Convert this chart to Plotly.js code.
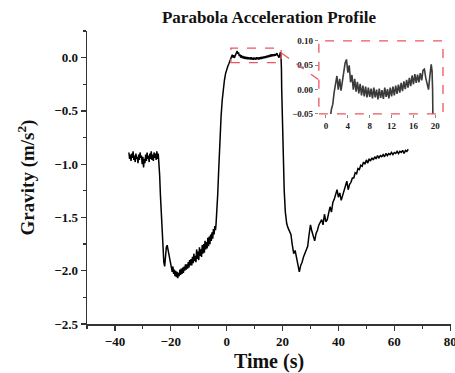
<!DOCTYPE html>
<html>
<head>
<meta charset="utf-8">
<script src="https://cdn.plot.ly/plotly-3.0.1.min.js"></script>
<style>html,body{margin:0;padding:0;background:#fff;}#chart{width:455px;height:373px;}</style>
</head>
<body>
<div id="chart"></div>
<script>
const time = [
  -35,-34.75,-34.5,-34.25,-34,-33.75,-33.5,-33.25,-33,-32.75,-32.5,-32.25,-32,-31.75,-31.5,-31.25,-31,-30.75,-30.5,-30.25,
  -30,-29.75,-29.5,-29.25,-29,-28.75,-28.5,-28.25,-28,-27.75,-27.5,-27.25,-27,-26.75,-26.5,-26.25,-26,-25.75,-25.5,-25.25,
  -25,-24.75,-24.5,
  -24.2,-24,-23.7,-23.4,-23.1,-22.8,-22.5,-22.2,-21.9,-21.6,-21.3,-21,-20.7,-20.4,-20.1,-19.8,
  -19.5,-19.25,-19,-18.75,-18.5,-18.25,-18,-17.75,-17.5,-17.25,-17,-16.75,-16.5,-16.25,-16,-15.75,-15.5,-15.25,-15,-14.75,
  -14.5,-14.25,-14,-13.75,-13.5,-13.25,-13,-12.75,-12.5,-12.25,-12,-11.75,-11.5,-11.25,-11,-10.75,-10.5,-10.25,-10,-9.75,
  -9.5,-9.25,-9,-8.75,-8.5,-8.25,-8,-7.75,-7.5,-7.25,-7,-6.75,-6.5,-6.25,-6,-5.75,-5.5,-5.25,-5,-4.75,-4.5,-4.25,-4,-3.8,
  -3.5,-3.2,-2.9,-2.6,-2.3,-2.0,-1.6,-1.2,-0.8,-0.4,0,0.4,
  0.75,1.0,1.25,1.5,1.75,2.0,2.25,2.5,2.75,3.0,3.25,3.5,3.75,4.0,4.25,4.5,4.75,5.0,5.25,5.5,5.75,6.0,6.25,6.5,6.75,
  7.0,7.25,7.5,7.75,8.0,8.25,8.5,8.75,9.0,9.25,9.5,9.75,10.0,10.25,10.5,10.75,11.0,11.25,11.5,11.75,12.0,12.25,12.5,12.75,
  13.0,13.25,13.5,13.75,14.0,14.25,14.5,14.75,15.0,15.25,15.5,15.75,16.0,16.25,16.5,16.75,17.0,17.25,17.5,17.75,18.0,
  18.25,18.5,18.75,19.0,19.25,19.4,19.5,
  19.6,19.7,19.9,20.2,20.6,21.0,21.5,22.0,22.5,23.0,23.5,24.0,24.5,25.0,25.5,26.0,26.5,27.0,27.5,28.0,28.5,29.0,29.5,
  30.0,30.5,31.0,31.5,32.0,32.5,33.0,33.5,34.0,34.5,35.0,35.5,36.0,36.5,37.0,37.5,38.0,38.5,39.0,39.5,40.0,40.5,41.0,
  41.5,42.0,42.5,43.0,43.5,44.0,44.5,45.0,45.5,46.0,46.5,47.0,47.5,48.0,48.5,49.0,49.5,50.0,50.5,51.0,51.5,52.0,52.5,
  53.0,53.5,54.0,54.5,55.0,55.5,56.0,56.5,57.0,57.5,58.0,58.5,59.0,59.5,60.0,60.5,61.0,61.5,62.0,62.5,63.0,63.5,64.0,64.5,65.0
];
const gravity = [
  -0.89,-0.95,-0.91,-0.97,-0.90,-0.94,-0.88,-0.96,-0.92,-0.98,-0.90,-0.95,-0.93,-0.99,-0.91,-0.96,-0.89,-0.94,-0.92,-1.00,
  -0.93,-1.03,-0.95,-0.99,-0.91,-0.97,-0.89,-0.95,-0.92,-0.98,-0.90,-0.95,-0.88,-0.96,-0.91,-0.97,-0.89,-0.94,-0.90,-0.96,
  -0.88,-0.95,-0.90,
  -0.98,-1.10,-1.30,-1.50,-1.65,-1.78,-1.92,-1.96,-1.86,-1.78,-1.76,-1.80,-1.85,-1.89,-1.93,-1.96,
  -2.01,-1.96,-2.03,-1.99,-2.05,-2.00,-2.06,-2.01,-2.07,-2.02,-2.05,-1.99,-2.04,-1.98,-2.03,-1.97,-2.02,-1.96,-2.00,-1.94,
  -1.99,-1.94,-1.98,-1.92,-1.97,-1.90,-1.95,-1.89,-1.95,-1.87,-1.93,-1.84,-1.91,-1.86,-1.92,-1.80,-1.89,-1.82,-1.90,-1.78,
  -1.86,-1.80,-1.87,-1.76,-1.84,-1.75,-1.83,-1.72,-1.80,-1.73,-1.79,-1.69,-1.77,-1.68,-1.75,-1.66,-1.72,-1.64,-1.70,-1.61,-1.66,-1.58,-1.62,-1.56,
  -1.45,-1.28,-1.08,-0.88,-0.70,-0.55,-0.40,-0.29,-0.21,-0.15,-0.10,-0.08,
  -0.06,-0.04,-0.03,-0.005,0.015,0.028,0.0,0.022,-0.002,0.02,0.03,0.055,0.062,0.035,0.05,0.015,0.03,0.0,0.022,-0.004,0.016,-0.008,0.012,-0.012,0.008,
  -0.014,0.006,-0.016,0.004,-0.015,0.002,-0.018,0.004,-0.016,0.0,-0.02,0.002,-0.017,-0.001,-0.019,0.004,-0.015,0.001,-0.018,0.004,-0.014,0.006,-0.012,0.008,
  -0.009,0.01,-0.006,0.014,-0.003,0.017,0.001,0.02,0.004,0.024,0.007,0.029,0.011,0.032,0.014,0.031,0.015,0.034,0.019,0.04,0.042,
  0.024,0.008,0.0,0.028,0.052,0.038,0.0,
  -0.10,-0.30,-0.60,-0.95,-1.25,-1.45,-1.56,-1.60,-1.63,-1.66,-1.76,-1.84,-1.81,-1.88,-1.95,-2.01,-1.95,-1.92,-1.87,-1.84,-1.80,-1.77,-1.66,
  -1.57,-1.63,-1.68,-1.72,-1.65,-1.62,-1.57,-1.54,-1.52,-1.57,-1.47,-1.54,-1.52,-1.46,-1.40,-1.45,-1.36,-1.33,-1.28,-1.24,-1.31,-1.27,-1.34,
  -1.29,-1.24,-1.19,-1.16,-1.24,-1.19,-1.17,-1.13,-1.13,-1.08,-1.09,-1.04,-1.05,-1.01,-1.02,-0.98,-1.00,-0.96,-0.99,-0.95,-0.97,-0.94,-0.96,
  -0.93,-0.95,-0.92,-0.94,-0.92,-0.93,-0.91,-0.93,-0.90,-0.92,-0.90,-0.91,-0.89,-0.91,-0.89,-0.90,-0.88,-0.90,-0.88,-0.89,-0.87,-0.90,-0.87,-0.88,-0.86
];
const xTicks = [-40, -20, 0, 20, 40, 60, 80];
const yTicks = [-2.5, -2.0, -1.5, -1.0, -0.5, 0.0];
const insetXTicks = [0, 4, 8, 12, 16, 20];
const insetYTicks = [-0.05, 0.00, 0.05, 0.10];
const zoomBox = {t0: 1.5, t1: 19.5, g0: -0.047, g1: 0.09};

const serif = 'Liberation Serif';
const axisColor = '#333';
const red = '#e8585f';

const traces = [
  {x: time, y: gravity, type: 'scatter', mode: 'lines', xaxis: 'x', yaxis: 'y',
   line: {color: '#000', width: 1.5}, hoverinfo: 'skip', showlegend: false},
  {x: time, y: gravity, type: 'scatter', mode: 'lines', xaxis: 'x2', yaxis: 'y2',
   line: {color: '#3a3a3a', width: 1.6}, hoverinfo: 'skip', showlegend: false}
];

const tickFont = {family: serif, size: 13, color: '#111', weight: 'bold'};
const insetFont = {family: serif, size: 9, color: '#222', weight: 'bold'};

const layout = {
  width: 455, height: 373,
  margin: {l: 87, r: 4, t: 31, b: 49},
  paper_bgcolor: '#fff', plot_bgcolor: '#fff',
  showlegend: false,
  title: {text: 'Parabola Acceleration Profile', x: 0.5, xref: 'paper', xanchor: 'center',
          y: 0.955, yref: 'container', yanchor: 'middle',
          font: {family: serif, size: 17, color: '#111', weight: 'bold'}},
  xaxis: {domain: [0, 1], range: [-50, 80.3], tickvals: xTicks, ticks: 'outside', ticklen: 5, tickwidth: 1.2,
          tickcolor: axisColor, showline: true, linecolor: axisColor, linewidth: 1.5, showgrid: false, zeroline: false,
          ticklabeloverflow: 'allow',
          minor: {dtick: 10, tick0: 0, ticks: 'outside', ticklen: 3, tickcolor: axisColor, showgrid: false},
          tickfont: tickFont,
          title: {text: 'Time (s)', standoff: 7, font: {family: serif, size: 20, color: '#111', weight: 'bold'}}},
  yaxis: {domain: [0, 1], range: [-2.5, 0.25], tickvals: yTicks, tickformat: '.1f', ticks: 'outside', ticklen: 5, tickwidth: 1.2,
          tickcolor: axisColor, showline: true, linecolor: axisColor, linewidth: 1.5, showgrid: false, zeroline: false,
          minor: {dtick: 0.25, tick0: 0, ticks: 'outside', ticklen: 3, tickcolor: axisColor, showgrid: false},
          tickfont: tickFont,
          title: {text: 'Gravity (m/s<sup>2</sup>)', standoff: 14, font: {family: serif, size: 19, color: '#111', weight: 'bold'}}},
  xaxis2: {domain: [0.637, 0.978], anchor: 'y2', range: [-1.3, 21.4], tickvals: insetXTicks, ticks: 'outside', ticklen: 3,
           tickcolor: '#888', showline: false, showgrid: false, zeroline: false, tickfont: insetFont},
  yaxis2: {domain: [0.717, 0.966], anchor: 'x2', range: [-0.05, 0.10], tickvals: insetYTicks, tickformat: '.2f',
           ticks: 'outside', ticklen: 3, tickcolor: '#888', showline: false, showgrid: false, zeroline: false, tickfont: insetFont},
  shapes: [
    {type: 'rect', xref: 'paper', yref: 'paper', x0: 0.637, x1: 0.978, y0: 0.717, y1: 0.966,
     line: {color: red, width: 1.3, dash: 'dash'}},
    {type: 'rect', xref: 'x', yref: 'y', x0: zoomBox.t0, x1: zoomBox.t1, y0: zoomBox.g0, y1: zoomBox.g1,
     line: {color: red, width: 1.3, dash: 'dash'}},
    {type: 'line', xref: 'paper', yref: 'paper', x0: 0.535, y0: 0.924, x1: 0.637, y1: 0.833,
     line: {color: red, width: 1.3, dash: 'dash'}}
  ]
};

Plotly.newPlot('chart', traces, layout, {staticPlot: true, displayModeBar: false});
</script>
</body>
</html>
